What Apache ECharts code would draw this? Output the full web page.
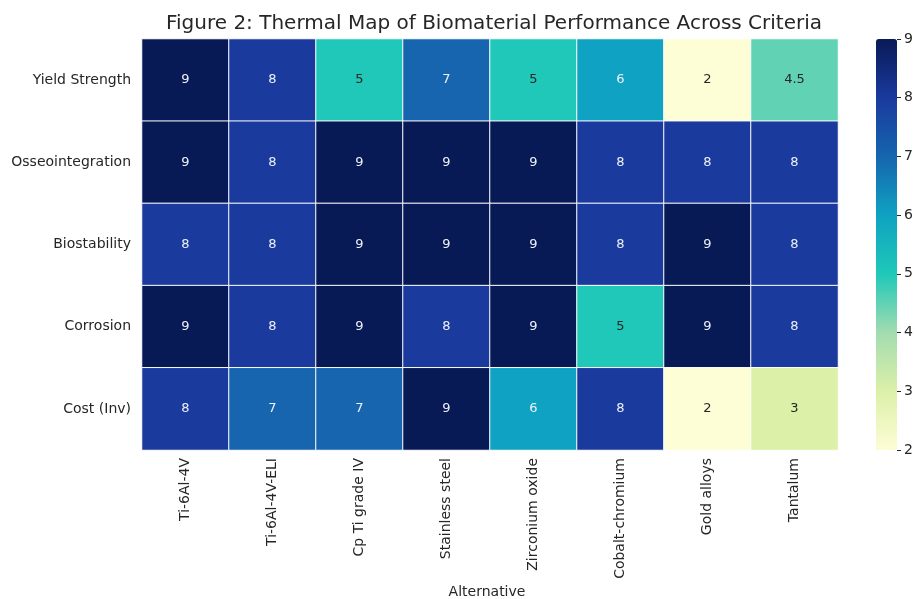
<!DOCTYPE html>
<html>
<head>
<meta charset="utf-8">
<script src="https://cdn.jsdelivr.net/npm/echarts@6/dist/echarts.min.js"></script>
<style>
html,body{margin:0;padding:0;background:#fff;}
#chart{width:917px;height:599px;}
</style>
</head>
<body>
<div id="chart"></div>
<script>
var alternatives = ['Ti-6Al-4V','Ti-6Al-4V-ELI','Cp Ti grade IV','Stainless steel','Zirconium oxide','Cobalt-chromium','Gold alloys','Tantalum'];
var criteria = ['Yield Strength','Osseointegration','Biostability','Corrosion','Cost (Inv)'];
var yieldStrength   = [9, 8, 5, 7, 5, 6, 2, 4.5];
var osseointegration = [9, 8, 9, 9, 9, 8, 8, 8];
var biostability    = [8, 8, 9, 9, 9, 8, 9, 8];
var corrosion       = [9, 8, 9, 8, 9, 5, 9, 8];
var costInv         = [8, 7, 7, 9, 6, 8, 2, 3];
var colorbarTicks = [2, 3, 4, 5, 6, 7, 8, 9];

var rows = [yieldStrength, osseointegration, biostability, corrosion, costInv];
var FONT = 'DejaVu Sans';
var data = [];
rows.forEach(function (row, r) {
  row.forEach(function (v, c) {
    data.push({
      value: [c, r, v],
      label: { color: v <= 5 ? '#262626' : '#eef2f6' }
    });
  });
});

var chart = echarts.init(document.getElementById('chart'), null, {renderer: 'canvas'});
chart.setOption({
  backgroundColor: '#ffffff',
  animation: false,
  title: {
    text: 'Figure 2: Thermal Map of Biomaterial Performance Across Criteria',
    left: 489, top: 9, textAlign: 'center',
    textStyle: { fontFamily: FONT, fontSize: 20, fontWeight: 'normal', color: '#262626' }
  },
  grid: [
    { left: 142, right: 79, top: 39, bottom: 149 },
    { left: 876, width: 21, top: 39, height: 411 }
  ],
  xAxis: [
    {
      type: 'category', data: alternatives, gridIndex: 0,
      axisLine: { show: false }, axisTick: { show: false }, splitLine: { show: false },
      axisLabel: { rotate: 90, fontFamily: FONT, fontSize: 14, color: '#262626', margin: 8, interval: 0 }
    },
    { type: 'value', gridIndex: 1, show: false, min: 0, max: 1 }
  ],
  yAxis: [
    {
      type: 'category', data: criteria, inverse: true, gridIndex: 0,
      axisLine: { show: false }, axisTick: { show: false }, splitLine: { show: false },
      axisLabel: { fontFamily: FONT, fontSize: 14, color: '#262626', margin: 11 }
    },
    {
      type: 'value', gridIndex: 1, min: colorbarTicks[0], max: colorbarTicks[colorbarTicks.length - 1], interval: 1,
      position: 'right',
      axisLine: { show: true, onZero: false, lineStyle: { color: 'rgba(0,0,0,0)' } },
      axisTick: { show: true, inside: false, length: 4, lineStyle: { color: '#262626', width: 1 } },
      splitLine: { show: false },
      axisLabel: { fontFamily: FONT, fontSize: 14, color: '#262626', margin: 7 }
    }
  ],
  visualMap: {
    type: 'continuous', min: 2, max: 9, seriesIndex: 0,
    calculable: false, realtime: false,
    orient: 'vertical', left: 876, top: 39,
    itemWidth: 21, itemHeight: 411, padding: 0,
    text: null, showLabel: false, z: 1,
    inRange: {
      color: ['#fdfdd6', '#dcf0a8', '#a2dcb0', '#1fc8b8', '#0fa2c2', '#1665ae', '#1a3a9e', '#081a56']
    }
  },
  graphic: [
    {
      type: 'text', x: 487, y: 592, z: 10,
      style: { text: 'Alternative', fontFamily: FONT, fontSize: 14, fill: '#262626', align: 'center', verticalAlign: 'middle' }
    }
  ],
  series: [{
    type: 'heatmap', xAxisIndex: 0, yAxisIndex: 0,
    data: data,
    itemStyle: { borderColor: '#ffffff', borderWidth: 1 },
    label: { show: true, fontFamily: FONT, fontSize: 13, formatter: function (p) { return String(p.value[2]); } },
    emphasis: { disabled: true }
  }]
});
</script>
</body>
</html>
